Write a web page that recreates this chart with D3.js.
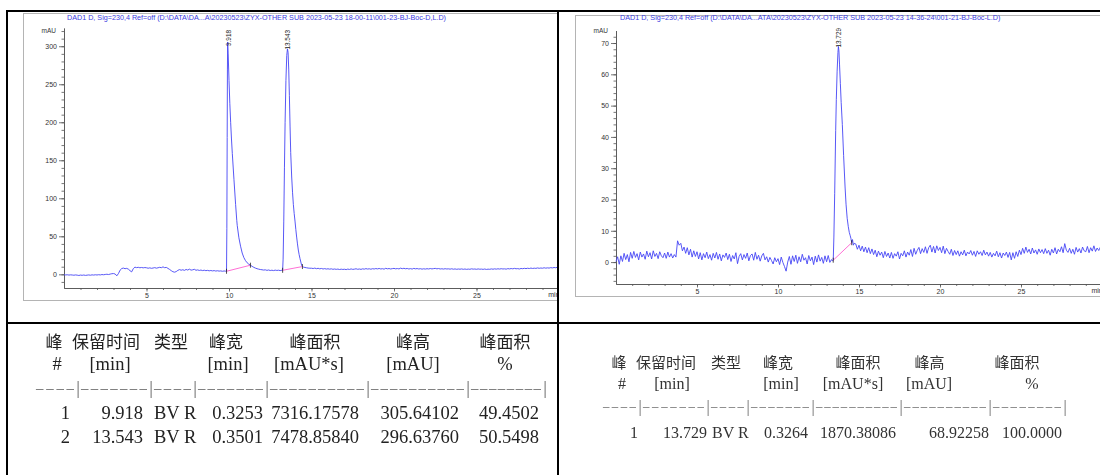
<!DOCTYPE html>
<html><head><meta charset="utf-8">
<script src="https://cdn.jsdelivr.net/npm/d3@7"></script>
<style>body{margin:0;background:#fff} svg{display:block} .tbl{filter:grayscale(100%)}</style>
</head><body>
<svg id="c" width="1100" height="475"></svg>
<script>
// ---------- DATA ----------
const leftTitle = "DAD1 D, Sig=230,4 Ref=off (D:\\DATA\\DA...A\\20230523\\ZYX-OTHER SUB 2023-05-23 18-00-11\\001-23-BJ-Boc-D,L.D)";
const rightTitle = "DAD1 D, Sig=230,4 Ref=off (D:\\DATA\\DA...ATA\\20230523\\ZYX-OTHER SUB 2023-05-23 14-36-24\\001-21-BJ-Boc-L.D)";

// left chromatogram, baseline 0.0-9.8 min every 0.1 min
const leftBase1 = [
 -0.5,-0.8,-0.6,-1.0,-0.7,-0.9,-1.2,-0.8,-1.1,-1.5,
 -1.0,-1.3,-0.9,-1.4,-1.1,-0.8,-1.2,-0.7,-1.0,-0.6,
 -0.9,-0.5,-0.8,-0.3,-0.6,-0.2,0.1,-0.3,0.3,0.8,
 1.0,0.4,-2.0,1.0,5.5,7.6,8.2,7.4,7.8,6.8,
 4.8,3.2,7.5,9.4,8.8,9.2,8.6,9.0,8.5,8.9,
 8.6,8.0,8.5,7.9,8.3,8.8,8.1,8.6,9.2,8.7,
 9.8,8.7,9.1,7.8,6.4,4.8,3.4,2.8,3.6,5.2,
 6.2,5.4,6.0,5.2,6.4,5.6,6.8,5.5,5.9,6.6,
 5.3,5.8,5.1,5.6,4.9,5.4,4.8,5.2,4.6,5.0,
 4.5,4.9,4.3,4.7,4.2,4.5,4.0,4.4,4.1];
const leftPeak1 = [[9.85,4.0],[9.87,60],[9.89,180],[9.905,270],[9.918,305.6],[9.95,290],[10.0,255],[10.05,225],[10.1,200],[10.15,178],[10.2,159],[10.3,125],[10.4,92],[10.47,71],[10.5,64],[10.6,48],[10.7,37],[10.8,28],[10.9,22],[11.0,18],[11.1,15.2],[11.2,13.3],[11.3,12.0],[11.4,10.5],[11.5,9.2],[11.6,8.2],[11.7,7.4],[11.8,6.8],[11.9,6.3]];
// 12.0-13.2 every 0.1
const leftBase2 = [6.0,5.6,5.9,5.2,5.7,5.0,5.4,4.9,5.5,5.1,5.4,4.9,5.3];
const leftPeak2 = [[13.25,5.3],[13.28,20],[13.32,70],[13.36,140],[13.4,200],[13.45,255],[13.5,288],[13.543,296.6],[13.58,292],[13.62,270],[13.66,235],[13.7,195],[13.74,160],[13.8,128],[13.85,108],[13.9,92],[13.95,80],[14.0,70],[14.05,59],[14.1,49],[14.15,40],[14.2,32],[14.25,26],[14.3,21],[14.4,12],[14.45,10.2],[14.5,9.6],[14.6,9.0],[14.7,8.6],[14.8,8.2],[14.9,8.0]];
// 15.0-29.9 every 0.1
const leftBase3 = [
 8.0,7.6,8.2,7.4,7.9,7.2,7.7,7.0,7.5,6.9,
 7.3,6.8,7.2,6.6,7.0,6.5,6.9,6.3,6.8,6.4,
 6.7,6.2,6.9,6.4,7.1,6.5,6.8,7.3,6.6,7.0,
 6.5,7.2,6.8,7.5,6.9,7.3,6.7,7.4,7.0,7.6,
 7.1,7.7,7.0,7.4,6.8,7.9,7.2,7.6,7.0,7.5,
 7.8,7.2,7.6,7.1,8.1,7.4,7.9,7.3,7.7,7.0,
 7.5,6.9,7.8,7.2,7.6,7.0,7.4,6.8,7.3,6.9,
 7.4,7.0,7.6,7.1,7.5,7.8,7.2,7.6,7.0,7.3,
 6.9,7.4,7.0,7.2,6.8,7.3,6.7,7.1,6.6,7.0,
 6.7,7.1,6.6,7.0,6.5,6.9,6.6,7.2,6.8,7.0,
 6.6,7.1,6.7,6.9,6.5,7.0,6.4,6.8,6.6,7.1,
 6.7,7.2,6.8,7.3,6.9,7.4,7.0,7.2,6.8,7.5,
 7.1,7.6,7.2,7.8,7.3,7.5,7.0,7.7,7.4,7.9,
 7.5,8.0,7.6,8.2,7.7,8.1,7.8,8.4,7.9,8.3,
 8.0,8.6,8.1,8.5,8.2,8.8,8.4,9.0,8.6,9.3];
const leftBaselines = [[[9.85,4.0],[11.3,12.0]],[[13.25,5.3],[14.45,10.2]]];
const leftPeakTimes = [9.918, 13.543];

// right chromatogram, 0.0-13.3 every 0.1
const rightBase1 = [
 0.2,1.7,-0.7,2.0,0.2,2.8,0.8,2.4,0.1,3.1,
 1.2,3.4,1.5,2.7,0.7,3.2,1.6,2.6,0.9,3.5,
 1.7,3.0,1.0,3.6,1.8,2.8,1.1,3.3,2.0,1.4,
 2.9,1.2,3.2,1.6,2.7,1.3,2.4,1.6,6.8,5.4,
 6.0,3.6,4.8,2.8,4.6,2.3,4.1,1.6,3.6,1.8,
 3.3,1.0,3.0,0.7,2.7,1.4,3.2,1.1,2.4,0.6,
 2.8,1.3,3.1,0.9,2.6,0.4,2.3,1.5,2.9,0.8,
 2.5,0.2,2.1,1.0,3.0,-0.5,1.8,2.7,0.7,2.4,
 1.2,2.9,0.4,2.1,2.6,0.6,3.1,0.9,2.2,0.3,
 2.0,2.8,0.7,1.7,0.0,1.5,0.5,-0.6,1.4,0.1,
 1.1,-0.8,1.6,-0.1,-1.4,-2.9,0.0,1.8,-0.7,2.0,
 0.2,2.2,-0.4,1.7,0.1,2.5,0.6,1.4,-0.6,2.1,
 0.4,1.6,-0.8,1.9,0.0,2.3,0.3,1.5,-0.4,2.0,
 0.1,2.1,-0.1,0.8];
const rightPeak = [[13.35,0.4],[13.41,0.6],[13.45,8],[13.5,22],[13.56,42],[13.6,52],[13.65,61],[13.7,67],[13.729,68.9],[13.76,67.5],[13.8,63],[13.85,57],[13.9,51],[13.97,44],[14.05,34],[14.14,24],[14.2,18.5],[14.27,14],[14.34,11.3],[14.4,9.5],[14.45,8.6],[14.5,7.6],[14.55,6.2],[14.6,7.2],[14.65,5.4],[14.7,6.0]];
// 14.8-30.0 every 0.1
const rightBase2 = [
 5.8,4.1,
 5.4,3.6,5.1,3.3,4.8,3.0,4.6,2.7,4.2,2.4,
 3.8,1.7,3.5,2.2,3.2,1.4,3.4,1.8,2.9,1.3,
 3.1,1.2,2.7,1.9,3.3,1.0,2.8,2.0,3.6,1.6,
 3.2,2.2,4.0,1.8,4.4,2.5,3.8,4.7,2.7,4.3,
 3.1,4.9,2.8,4.6,5.4,3.2,5.0,2.9,5.2,3.7,
 4.7,3.0,5.1,2.7,4.4,3.4,2.5,4.1,2.1,3.7,
 2.4,3.6,1.9,3.3,2.3,3.8,2.0,3.2,2.6,3.7,
 2.2,3.4,1.8,3.6,2.5,3.3,2.1,3.8,2.3,3.2,
 1.9,3.1,1.6,2.8,2.0,3.5,1.7,3.0,1.3,2.9,
 2.1,3.2,1.5,3.1,0.7,3.0,1.2,3.3,1.8,3.8,
 2.4,4.4,2.8,4.8,3.1,4.1,2.6,4.5,2.9,3.9,
 2.5,4.2,3.0,4.0,2.7,4.3,2.8,3.8,2.2,4.1,
 2.9,4.6,2.6,4.1,3.3,4.9,3.0,5.9,3.8,3.1,
 4.4,2.8,4.1,2.5,4.7,3.2,4.3,2.9,4.8,3.6,
 3.3,5.0,3.0,4.6,3.5,5.2,3.4,4.5,3.7,4.8,
 4.2];
const rightBaselines = [[[13.41,0.6],[14.55,6.2]]];
const rightPeakTimes = [13.729];

// tables
const headRow1 = ["峰","保留时间","类型","峰宽","峰面积","峰高","峰面积"];
const headRow2 = ["#","[min]","","[min]","[mAU*s]","[mAU]","%"];
const leftRows = [
 ["1","9.918","BV R","0.3253","7316.17578","305.64102","49.4502"],
 ["2","13.543","BV R","0.3501","7478.85840","296.63760","50.5498"]];
const rightRows = [
 ["1","13.729","BV R","0.3264","1870.38086","68.92258","100.0000"]];
const dashCounts = [4,7,4,7,10,10,8];

// ---------- HELPERS ----------
const uniform = (start, step, vals) => vals.map((v,i) => [Math.round((start + i*step)*1000)/1000, v]);
const leftSeries = [...uniform(0,0.1,leftBase1), ...leftPeak1, ...uniform(12.0,0.1,leftBase2), ...leftPeak2, ...uniform(15.0,0.1,leftBase3)];
const rightSeries = [...uniform(0,0.1,rightBase1), ...rightPeak, ...uniform(14.8,0.1,rightBase2)];

const svg = d3.select("#c");
const defs = svg.append("defs");
defs.append("clipPath").attr("id","clipL").append("rect").attr("x",8).attr("y",12).attr("width",549).attr("height",310);
defs.append("clipPath").attr("id","clipR").append("rect").attr("x",559).attr("y",12).attr("width",541).attr("height",310);

const AX = "#555", TXT = "#333", TRACE = "#4545f5", PINK = "#ff5fd0", TITLE = "#3b3be0";
const sans = "'Liberation Sans', Arial, sans-serif";

function chart(cfg) {
  const g = svg.append("g").attr("clip-path", `url(#${cfg.clip})`);
  g.append("rect").attr("x",cfg.frame[0]+0.5).attr("y",cfg.frame[1]+0.5)
    .attr("width",cfg.frame[2]).attr("height",cfg.frame[3])
    .attr("fill","none").attr("stroke","#b4b4b4");
  const x = d3.scaleLinear().domain([0,30]).range(cfg.xr);
  const y = d3.scaleLinear().domain(cfg.yd).range(cfg.yr);
  g.append("text").attr("x",cfg.titleX).attr("y",19.5).attr("font-family",sans).attr("font-size",7.2)
    .attr("fill",TITLE).text(cfg.title);
  g.append("text").attr("x",cfg.xr[0]-8).attr("y",cfg.mauY).attr("text-anchor","end")
    .attr("font-family",sans).attr("font-size",6.5).attr("fill",TXT).text("mAU");
  // y axis
  g.append("g").attr("transform",`translate(${cfg.xr[0]},0)`)
    .call(d3.axisLeft(y).tickValues(cfg.yMajor).tickSize(5).tickSizeOuter(0).tickPadding(2));
  g.append("g").attr("transform",`translate(${cfg.xr[0]},0)`)
    .call(d3.axisLeft(y).tickValues(cfg.yMinor).tickSize(2.5).tickSizeOuter(0).tickFormat(""));
  // x axis
  const yBot = cfg.yr[0];
  g.append("g").attr("transform",`translate(0,${yBot})`)
    .call(d3.axisBottom(x).tickValues([5,10,15,20,25]).tickSize(3.5).tickSizeOuter(0).tickPadding(1.5));
  g.append("g").attr("transform",`translate(0,${yBot})`)
    .call(d3.axisBottom(x).tickValues(d3.range(1,30)).tickSize(2).tickSizeOuter(0).tickFormat(""));
  g.selectAll(".domain, .tick line").attr("stroke",AX).attr("stroke-width",0.8);
  g.selectAll(".tick text").attr("font-family",sans).attr("font-size",7).attr("fill",TXT);
  g.append("text").attr("x",x(29.35)).attr("y",yBot+9).attr("font-family",sans).attr("font-size",7)
    .attr("fill",TXT).text("min");
  // trace
  g.append("path").datum(cfg.series).attr("fill","none").attr("stroke",TRACE).attr("stroke-width",0.9)
    .attr("stroke-linejoin","round")
    .attr("d", d3.line().x(d=>x(d[0])).y(d=>y(d[1])));
  // integration baselines
  cfg.baselines.forEach(b => {
    g.append("line").attr("x1",x(b[0][0])).attr("y1",y(b[0][1])).attr("x2",x(b[1][0])).attr("y2",y(b[1][1]))
      .attr("stroke",PINK).attr("stroke-width",0.9);
    b.forEach(p => g.append("line").attr("x1",x(p[0])).attr("x2",x(p[0]))
      .attr("y1",y(p[1])-2.5).attr("y2",y(p[1])+2.5).attr("stroke","#222").attr("stroke-width",0.8));
  });
  // peak labels
  cfg.peaks.forEach(rt => {
    g.append("text").attr("transform",`translate(${x(rt)+0.5},${cfg.labelTop}) rotate(-90)`)
      .attr("text-anchor","end").attr("dominant-baseline","central")
      .attr("font-family",sans).attr("font-size",6.4).attr("fill","#222").text(rt.toFixed(3));
  });
}

chart({clip:"clipL", frame:[23,13,570,287], title:leftTitle, titleX:67, mauY:33,
  xr:[64,559], yd:[-18,324], yr:[288,28], yMajor:d3.range(0,301,50), yMinor:d3.range(-10,321,10),
  series:leftSeries, baselines:leftBaselines, peaks:leftPeakTimes, labelTop:30});
chart({clip:"clipR", frame:[575,15,560,281], title:rightTitle, titleX:620, mauY:33,
  xr:[616,1102], yd:[-7,74], yr:[284,30.5], yMajor:d3.range(0,71,10), yMinor:d3.range(-6,73,2),
  series:rightSeries, baselines:rightBaselines, peaks:rightPeakTimes, labelTop:28});

// ---------- BORDERS ----------
const B = svg.append("g").attr("stroke","#000").attr("stroke-width",2);
B.append("line").attr("x1",6).attr("x2",1100).attr("y1",11).attr("y2",11);
B.append("line").attr("x1",7).attr("x2",7).attr("y1",10).attr("y2",475);
B.append("line").attr("x1",558).attr("x2",558).attr("y1",10).attr("y2",475);
B.append("line").attr("x1",6).attr("x2",1100).attr("y1",323).attr("y2",323);

// ---------- TABLES ----------
const cjk = "'Noto Sans CJK SC', sans-serif";
const serif = "'Liberation Serif', 'DejaVu Serif', serif";
function table(t) {
  const g = svg.append("g").attr("class","tbl").attr("fill", t.color);
  headRow1.forEach((h,i) => g.append("text").attr("x",t.h1x[i]).attr("y",t.rowY[0])
    .attr("text-anchor","middle").attr("dominant-baseline","central")
    .attr("font-family",cjk).attr("font-size",t.cjkSize).text(h));
  headRow2.forEach((h,i) => { if (h) g.append("text").attr("x",t.h2x[i]).attr("y",t.rowY[1])
    .attr("text-anchor","middle").attr("dominant-baseline","central")
    .attr("font-family",serif).attr("font-size",t.numSize).text(h); });
  // dashed separator row
  let prev = t.dashStart;
  t.pipes.forEach((p,i) => {
    g.append("text").attr("x",prev).attr("y",t.rowY[2]).attr("dominant-baseline","central")
      .attr("font-family",serif).attr("font-size",t.numSize*0.8).attr("fill","#555")
      .attr("textLength",p-prev-4).attr("lengthAdjust","spacing").text("\u2013".repeat(dashCounts[i]));
    g.append("text").attr("x",p).attr("y",t.rowY[2]).attr("text-anchor","middle").attr("dominant-baseline","central")
      .attr("font-family",serif).attr("font-size",t.numSize).attr("fill","#666").text("|");
    prev = p + 3;
  });
  t.rows.forEach((r,ri) => r.forEach((c,ci) => {
    g.append("text").attr("x",t.colX[ci]).attr("y",t.rowY[3+ri])
      .attr("text-anchor", ci===2 ? "start" : "end").attr("dominant-baseline","central")
      .attr("font-family",serif).attr("font-size",t.numSize).text(c);
  }));
}
table({color:"#222", rows:leftRows, cjkSize:17, numSize:18.5,
  rowY:[340,364,388,413,437],
  h1x:[54,106,171,226,315,413,505], h2x:[57,110,0,228,309,413,505],
  dashStart:36, pipes:[78,151,195,267,368,468,545],
  colX:[70,143,154,263,359,459,539]});
table({color:"#333", rows:rightRows, cjkSize:15, numSize:16,
  rowY:[361,383,406,432],
  h1x:[619,666,726,778,858,929.5,1017], h2x:[622,672,0,781,853,929,1032],
  dashStart:603, pipes:[640,708,748,813,901,990,1065],
  colX:[638,707,712,808,896,989,1062]});
</script>
</body></html>
